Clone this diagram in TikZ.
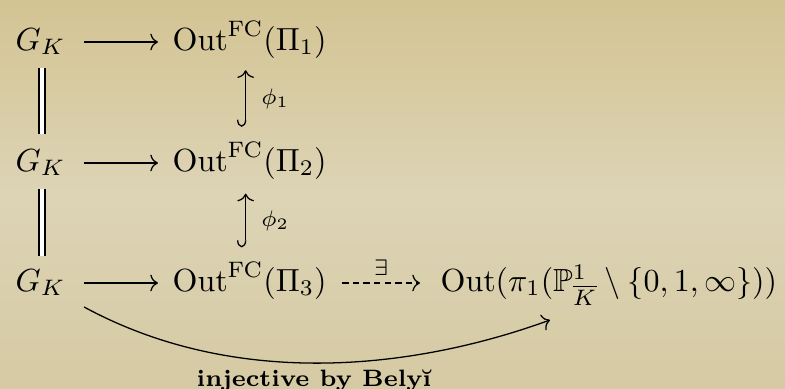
\documentclass[tikz,border=0pt]{standalone}
\usepackage{amsmath,amssymb}
\usetikzlibrary{arrows.meta}
\definecolor{bgtop}{HTML}{D3C493}
\definecolor{bgmid}{HTML}{DDD4B6}
\definecolor{bgbot}{HTML}{D5CAA3}
\begin{document}
\begin{tikzpicture}[x=0.3125pt,y=-0.3125pt,
  obj/.style={inner sep=0pt, text height=8pt, text depth=3pt, anchor=west},
  arr/.style={line width=0.4pt, -{To[length=2.4pt,width=5.2pt]}},
  hookarr/.style={line width=0.4pt, {Hooks[right,length=2.2pt,width=5.4pt]}-{To[length=2.4pt,width=5.2pt]}},
  eq/.style={double, double distance=1.5pt, line width=0.4pt},
  dasharr/.style={arr, dash pattern=on 2pt off 1.3pt},
  lbl/.style={inner sep=0pt, font=\scriptsize}
]
\useasboundingbox (0,0) rectangle (785,389);
\shade[top color=bgtop, bottom color=bgbot, middle color=bgmid] (0,0) rectangle (785,389);

\node[obj] (g1) at (15,42) {$G_K$};
\node[obj] (o1) at (172,42) {$\mathrm{Out}^{\mathrm{FC}}(\Pi_1)$};
\node[obj] (g2) at (15,163) {$G_K$};
\node[obj] (o2) at (172,163) {$\mathrm{Out}^{\mathrm{FC}}(\Pi_2)$};
\node[obj] (g3) at (15,283) {$G_K$};
\node[obj] (o3) at (172,283) {$\mathrm{Out}^{\mathrm{FC}}(\Pi_3)$};
\node[obj] (p) at (440,283) {$\mathrm{Out}(\pi_1(\mathbb{P}^1_{\overline{K}}\setminus\{0,1,\infty\}))$};

\draw[arr] ([shift={(18,0)}]g1.east) -- ([shift={(-14,0)}]o1.west);
\draw[arr] ([shift={(18,0)}]g2.east) -- ([shift={(-14,0)}]o2.west);
\draw[arr] ([shift={(18,0)}]g3.east) -- ([shift={(-14,0)}]o3.west);

\draw[eq] ([shift={(1.5,7.4)}]g1.south) -- ([shift={(1.5,-10.4)}]g2.north);
\draw[eq] ([shift={(1.5,7.4)}]g2.south) -- ([shift={(1.5,-8.4)}]g3.north);

\draw[hookarr] ([shift={(-4,-18)}]o2.north) -- node[lbl, midway, anchor=west, xshift=4.7pt] (phi1) {$\phi_1$} ([shift={(-4,10)}]o1.south);
\draw[hookarr] ([shift={(-4,-17.4)}]o3.north) -- node[lbl, midway, anchor=west, xshift=4.7pt] (phi2) {$\phi_2$} ([shift={(-4,12.4)}]o2.south);

\draw[dasharr] ([shift={(15,0)}]o3.east) -- node[lbl, midway, above, inner sep=2.3pt] (ex) {$\exists$} ([shift={(-20,0)}]p.west);

\draw[arr] ([shift={(18,24)}]g3.east) .. controls (239,391) and (418,368) .. ([shift={(110,37)}]p.west);
\node[lbl, font=\fontsize{7.4}{9}\selectfont\bfseries, anchor=base] (bel) at (314,386) {injective by Bely\u{\i}};
\end{tikzpicture}
\end{document}
